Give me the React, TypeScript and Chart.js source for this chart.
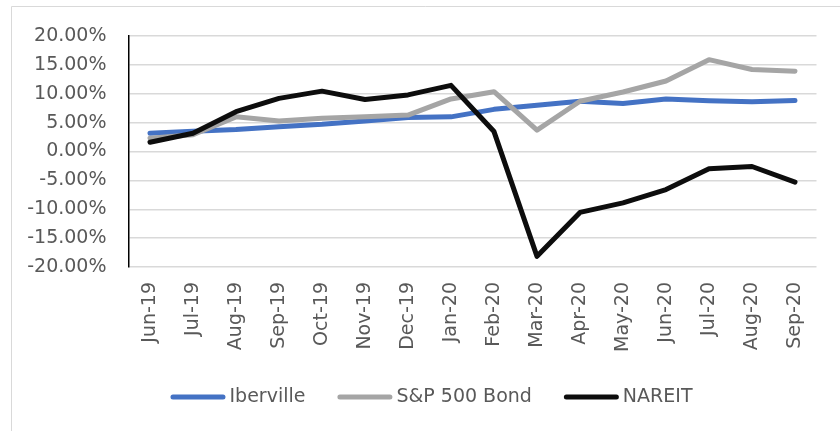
import React, { useEffect, useRef } from "react";
import { Chart, registerables } from "chart.js";

Chart.register(...registerables);

const categories = [
  "Jun-19", "Jul-19", "Aug-19", "Sep-19", "Oct-19", "Nov-19", "Dec-19", "Jan-20",
  "Feb-20", "Mar-20", "Apr-20", "May-20", "Jun-20", "Jul-20", "Aug-20", "Sep-20",
];
const iberville = [3.15, 3.5, 3.8, 4.3, 4.7, 5.3, 5.9, 6.0, 7.3, 8.0, 8.7, 8.3, 9.1, 8.8, 8.6, 8.85];
const spBond = [2.3, 2.9, 6.0, 5.3, 5.75, 6.0, 6.3, 9.1, 10.35, 3.7, 8.7, 10.3, 12.2, 15.9, 14.2, 13.9];
const nareit = [1.6, 3.15, 6.9, 9.2, 10.45, 9.0, 9.8, 11.45, 3.45, -18.15, -10.55, -8.9, -6.6, -3.0, -2.6, -5.3];
const yMin = -20;
const yMax = 20;
const yStep = 5;

const FONT = "'DejaVu Sans', sans-serif";
const FONT_SIZE = 19;
const TEXT_COLOR = "#595959";

const framePlugin = {
  id: "frame",
  beforeDraw(chart: any) {
    const ctx = chart.ctx;
    ctx.save();
    ctx.strokeStyle = "#d9d9d9";
    ctx.lineWidth = 1;
    ctx.beginPath();
    ctx.moveTo(840, 6.5);
    ctx.lineTo(11.5, 6.5);
    ctx.lineTo(11.5, 431);
    ctx.stroke();
    ctx.restore();
  },
};

const legendPlugin = {
  id: "customLegend",
  afterDraw(chart: any) {
    const ctx = chart.ctx;
    const sample = 55;
    const gap = 4;
    const spacing = 32;
    ctx.save();
    ctx.font = `${FONT_SIZE}px ${FONT}`;
    const items = chart.data.datasets.map((d: any) => ({
      label: d.label,
      color: d.borderColor,
      w: ctx.measureText(d.label).width,
    }));
    let total = 0;
    items.forEach((it: any, i: number) => {
      total += sample + gap + it.w + (i < items.length - 1 ? spacing : 0);
    });
    let x = 431.5 - total / 2;
    const y = 397;
    items.forEach((it: any) => {
      ctx.strokeStyle = it.color;
      ctx.lineWidth = 5;
      ctx.lineCap = "round";
      ctx.beginPath();
      ctx.moveTo(x + 2.5, y);
      ctx.lineTo(x + sample - 2.5, y);
      ctx.stroke();
      x += sample + gap;
      ctx.fillStyle = TEXT_COLOR;
      ctx.textBaseline = "middle";
      ctx.textAlign = "left";
      ctx.fillText(it.label, x, y);
      x += it.w + spacing;
    });
    ctx.restore();
  },
};

export default function App() {
  const ref = useRef<HTMLCanvasElement>(null);
  useEffect(() => {
    if (!ref.current) return;
    const chart = new Chart(ref.current, {
      type: "line",
      data: {
        labels: categories,
        datasets: [
          { label: "Iberville", data: iberville, borderColor: "#4472C4", backgroundColor: "#4472C4", order: 3 },
          { label: "S&P 500 Bond", data: spBond, borderColor: "#A5A5A5", backgroundColor: "#A5A5A5", order: 2 },
          { label: "NAREIT", data: nareit, borderColor: "#0D0D0D", backgroundColor: "#0D0D0D", order: 1 },
        ].map((d) => ({
          ...d,
          borderWidth: 5,
          pointRadius: 0,
          tension: 0,
          borderCapStyle: "round" as const,
          borderJoinStyle: "round" as const,
          fill: false,
        })),
      },
      options: {
        responsive: false,
        animation: false,
        devicePixelRatio: 1,
        layout: { padding: { top: 36, right: 23.5, left: 0, bottom: 0 } },
        plugins: { legend: { display: false }, tooltip: { enabled: false } },
        scales: {
          x: {
            offset: true,
            grid: { display: false, drawTicks: false },
            border: { display: false },
            ticks: {
              autoSkip: false,
              minRotation: 90,
              maxRotation: 90,
              padding: 15,
              color: TEXT_COLOR,
              font: { family: FONT, size: FONT_SIZE },
            },
            afterFit: (s: any) => {
              s.height = 164;
            },
          },
          y: {
            min: yMin,
            max: yMax,
            grid: { color: "#d9d9d9", lineWidth: 1.5, drawTicks: false },
            border: { display: true, color: "#000000", width: 1.5 },
            ticks: {
              stepSize: yStep,
              padding: 22,
              color: TEXT_COLOR,
              font: { family: FONT, size: FONT_SIZE },
              callback: (v: any) => Number(v).toFixed(2) + "%",
            },
            afterFit: (s: any) => {
              s.width = 128.5;
            },
          },
        },
      },
      plugins: [framePlugin, legendPlugin],
    });
    return () => chart.destroy();
  }, []);
  return (
    <div style={{ position: "absolute", left: 0, top: 0, width: 840, height: 431, background: "#fff" }}>
      <canvas ref={ref} width={840} height={431} style={{ display: "block" }} />
    </div>
  );
}
